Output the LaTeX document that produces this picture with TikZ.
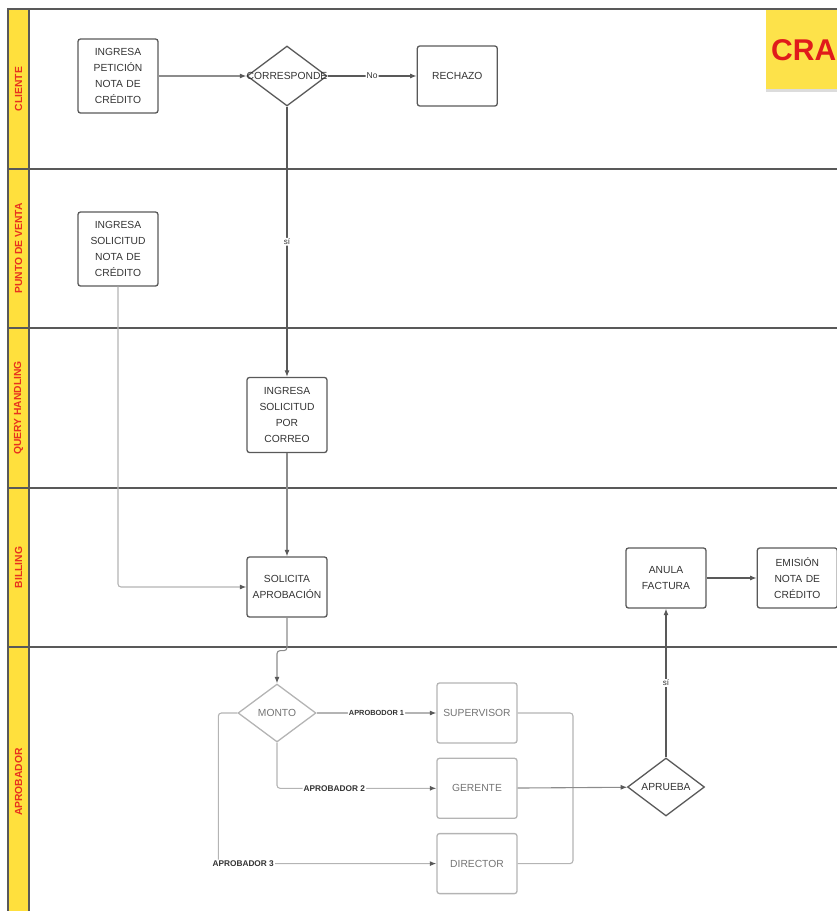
\documentclass[tikz,border=0pt]{standalone}
\usepackage{fontspec}
\setmainfont{Liberation Sans}
\usetikzlibrary{positioning,arrows.meta,shapes.geometric,shadows}

\definecolor{laneyellow}{HTML}{FFE03D}
\definecolor{lanered}{HTML}{E8321E}
\definecolor{stickyyellow}{HTML}{FDE24A}
\definecolor{stickyred}{HTML}{E01B1B}
\definecolor{inkgray}{HTML}{333333}
\definecolor{linegray}{HTML}{595959}
\definecolor{midgray}{HTML}{8C8C8C}
\definecolor{softgray}{HTML}{B4B4B4}

\begin{document}
\begin{tikzpicture}[
    x=1pt, y=-1pt,
    font=\fontsize{10.3}{16}\selectfont,
    node distance=89pt,
    lanebox/.style={
        draw=linegray,
        line width=1.6pt
    },
    lanestrip/.style={
        draw=linegray,
        fill=laneyellow,
        line width=1.6pt
    },
    lanelabel/.style={
        rotate=90,
        text=lanered,
        font=\bfseries\fontsize{10.3}{11}\selectfont
    },
    proc/.style={
        draw=linegray,
        text=inkgray,
        rounded corners=2.5pt,
        line width=1.3pt,
        align=center,
        minimum width=80pt,
        minimum height=60pt,
        text width=76pt,
        inner sep=2pt
    },
    softproc/.style={
        proc,
        draw=softgray,
        text=gray!90!black
    },
    decision/.style={
        diamond,
        draw=#1,
        text=inkgray,
        line width=1.3pt,
        minimum width=80pt,
        minimum height=60pt,
        inner sep=0pt
    },
    decision/.default=linegray,
    sticky/.style={
        fill=stickyyellow,
        text=stickyred,
        font=\bfseries\fontsize{30}{32}\selectfont,
        minimum width=140pt,
        minimum height=79pt,
        inner xsep=5pt,
        text width=130pt,
        align=left,
        drop shadow={shadow xshift=0pt, shadow yshift=-3pt, opacity=0.3, fill=black!45}
    },
    flow/.style={-{Latex[length=6.5pt,width=5pt]}, line width=1.1pt, draw=linegray, rounded corners=3pt},
    midflow/.style={-{Latex[length=6.5pt,width=5pt,color=linegray]}, line width=1.1pt, draw=midgray, rounded corners=3pt},
    softflow/.style={-{Latex[length=6.5pt,width=5pt,color=linegray]}, line width=1.1pt, draw=softgray, rounded corners=3pt},
    link/.style={line width=1.1pt, draw=softgray, rounded corners=3pt},
    tag/.style={fill=white, text=inkgray, inner sep=1pt, font=\bfseries\fontsize{8.3}{9}\selectfont},
    note/.style={fill=white, text=inkgray, inner sep=1pt, font=\fontsize{8}{9}\selectfont}
]

\useasboundingbox (0,0) rectangle (837,911);
\clip (0,0) rectangle (837,911);

\foreach \lname/\ytop/\ybot [count=\i] in {CLIENTE/9/169, PUNTO DE VENTA/169/328, QUERY HANDLING/328/488, BILLING/488/647, APROBADOR/647/917} {
    \draw[lanebox] (8,\ytop) rectangle (880,\ybot);
    \draw[lanestrip] (8,\ytop) rectangle (29,\ybot);
    \node[lanelabel] (lane\i) at (18.5,{(\ytop+\ybot)/2}) {\lname};
}

\node[sticky, anchor=north west] (nota) at (766,10) {CRA};

\node[proc, minimum height=74pt] (peticion) at (118,76) {INGRESA\\PETICIÓN\\NOTA DE\\CRÉDITO};
\node[decision] (corresponde) at (287,76) {\makebox[0pt]{CORRESPONDE}};
\node[proc, right=of corresponde] (rechazo) {RECHAZO};

\node[proc, minimum height=74pt] (solicitudpv) at (118,249) {INGRESA\\SOLICITUD\\NOTA DE\\CRÉDITO};
\node[proc, minimum height=75pt] (correo) at (287,415) {INGRESA\\SOLICITUD\\POR\\CORREO};
\node[proc] (aprobacion) at (287,587) {SOLICITA\\APROBACIÓN};

\node[proc] (anula) at (666,578) {ANULA\\FACTURA};
\node[proc, right=50pt of anula] (emision) {EMISIÓN\\NOTA DE\\CRÉDITO};

\node[decision=softgray, minimum width=78pt, minimum height=58pt, text=gray!90!black] (monto) at (277,713) {\makebox[0pt]{MONTO}};
\node[softproc] (supervisor) at (477,713) {SUPERVISOR};
\node[softproc, below=14pt of supervisor] (gerente) {GERENTE};
\node[softproc, below=14pt of gerente] (director) {DIRECTOR};
\node[decision, minimum width=77pt, minimum height=58pt] (aprueba) at (666,787) {\makebox[0pt]{APRUEBA}};
\coordinate (merge) at (573,787);

\draw[midflow] (peticion) -- (corresponde);
\draw[flow] (corresponde) -- node[note, font=\fontsize{8.5}{9}\selectfont] {No} (rechazo);
\draw[flow] (corresponde) -- node[note] {sí} (correo);
\draw[softflow] (solicitudpv) |- (aprobacion);
\draw[midflow] (correo) -- (aprobacion);
\draw[midflow] (aprobacion.south) -- ++(0,33) -| (monto.north);

\draw[softflow] (monto) -- node[tag, font=\bfseries\fontsize{7.4}{9}\selectfont] {APROBODOR 1} (supervisor);
\draw[softflow] (monto.south) |- node[tag, pos=0.68] {APROBADOR 2} (gerente);
\draw[softflow] (monto.west) -- ++(-19,0) |- node[tag, pos=0.557] {APROBADOR 3} (director);

\draw[link] (supervisor) -| (merge);
\draw[link] (director) -| (merge);
\draw[midflow] (gerente) -- (aprueba);
\draw[flow] (aprueba) -- node[note] {sí} (anula);
\draw[flow] (anula) -- (emision);

\end{tikzpicture}
\end{document}
